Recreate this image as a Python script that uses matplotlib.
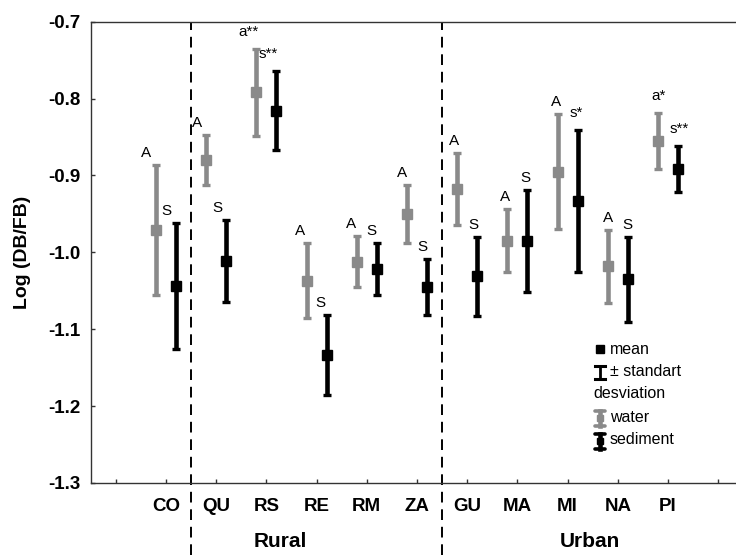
import matplotlib
matplotlib.use('Agg')
import matplotlib.pyplot as plt
from matplotlib.lines import Line2D
import numpy as np

plt.rcParams['font.family'] = ['Liberation Sans', 'DejaVu Sans']
plt.rcParams['axes.unicode_minus'] = False

# ---- data ----
sites = ['CO', 'QU', 'RS', 'RE', 'RM', 'ZA', 'GU', 'MA', 'MI', 'NA', 'PI']
water_mean = [-0.971, -0.880, -0.792, -1.037, -1.012, -0.950, -0.918, -0.985, -0.895, -1.018, -0.855]
water_sd = [0.084, 0.033, 0.057, 0.049, 0.033, 0.0375, 0.047, 0.041, 0.0745, 0.0476, 0.036]
sed_mean = [-1.044, -1.011, -0.816, -1.133, -1.022, -1.045, -1.031, -0.985, -0.933, -1.035, -0.892]
sed_sd = [0.082, 0.053, 0.0515, 0.052, 0.034, 0.036, 0.0515, 0.066, 0.0926, 0.055, 0.030]
water_labels = ['A', 'A', 'a**', 'A', 'A', 'A', 'A', 'A', 'A', 'A', 'a*']
sed_labels = ['S', 'S', 's**', 'S', 'S', 'S', 'S', 'S', 's*', 'S', 's**']
tick_labels = [''] + sites + ['']
group_names = ['Rural', 'Urban']
yticks = [-0.7, -0.8, -0.9, -1.0, -1.1, -1.2, -1.3]

W, H = 736, 555
fig = plt.figure(figsize=(W / 100, H / 100), dpi=100)
ax = fig.add_axes([90.7 / W, 1 - 483 / H, 652.6 / W, (483 - 21.7) / H])

GRAY = '#8a8a8a'
x = np.arange(1, len(sites) + 1)
off = 0.2
ekw = dict(fmt='s', markersize=6.5, elinewidth=3.3, capsize=3.0, capthick=2.4)
ax.errorbar(x - off, water_mean, yerr=water_sd, color=GRAY, ecolor=GRAY, **ekw)
ax.errorbar(x + off, sed_mean, yerr=sed_sd, color='black', ecolor='black', **ekw)

for i in range(len(sites)):
    dx = -10 + 1.1 * i
    for lab, xx, top in ((water_labels[i], x[i] - off, water_mean[i] + water_sd[i]),
                         (sed_labels[i], x[i] + off, sed_mean[i] + sed_sd[i])):
        dy = 10 if '*' in lab else 5
        ax.annotate(lab, (xx, top), xytext=(dx, dy), textcoords='offset pixels',
                    ha='center', va='bottom', fontsize=11)

ax.set_xlim(-0.5, 12.5)
ax.set_ylim(-1.3, -0.7)
ax.set_xticks(np.arange(len(tick_labels)))
ax.set_xticklabels(tick_labels, fontweight='bold', fontsize=13.5)
ax.set_yticks(yticks)
ax.set_yticklabels([f'{v:.1f}' for v in yticks], fontweight='bold', fontsize=13.5)
ax.tick_params(axis='x', direction='in', length=3, width=1, pad=11, colors='#333333',
               labelcolor='black')
ax.tick_params(axis='y', direction='in', length=3, width=1, pad=7, colors='#333333',
               labelcolor='black')
for s in ax.spines.values():
    s.set_linewidth(1.0)
    s.set_color('#333333')
ax.set_ylabel('Log (DB/FB)', fontweight='bold', fontsize=14)
ax.yaxis.set_label_coords(-(90.7 - 31) / 652.6, 0.5)

# group separators
for xv in (1.5, 6.5):
    ax.axvline(xv, ymin=-(555 - 483) / (483 - 21.7), ymax=1, color='black', lw=1.4,
               ls=(0, (5.5, 3.5)), clip_on=False)

fig.text(280 / W, 1 - 541.5 / H, group_names[0], ha='center', va='center',
         fontweight='bold', fontsize=15)
fig.text(590 / W, 1 - 541.5 / H, group_names[1], ha='center', va='center',
         fontweight='bold', fontsize=15)

# ---- legend (drawn manually) ----
def P(px, py):
    return px / W, 1 - py / H

def add_line(xs, ys, **kw):
    fx = [px / W for px in xs]
    fy = [1 - py / H for py in ys]
    fig.add_artist(Line2D(fx, fy, transform=fig.transFigure, **kw))

# mean
add_line([600], [349], marker='s', color='black', markersize=5.5, ls='none')
fig.text(*P(610, 349), 'mean', ha='left', va='center', fontsize=11.5)
# std symbol
add_line([600, 600], [366, 379], color='black', lw=2.0)
add_line([595, 605], [366, 366], color='black', lw=2.2)
add_line([595, 605], [379, 379], color='black', lw=2.2)
fig.text(*P(610, 372), '± standart', ha='left', va='center', fontsize=11.5)
fig.text(*P(593, 393.5), 'desviation', ha='left', va='center', fontsize=11.5)
# water / sediment symbols
for col, yc, lab in ((GRAY, 418, 'water'), ('black', 441, 'sediment')):
    add_line([600, 600], [yc - 7.5, yc + 7.5], color=col, lw=3.3)
    add_line([595, 605], [yc - 7.5, yc - 7.5], color=col, lw=2.6, solid_capstyle='round')
    add_line([595, 605], [yc + 7.5, yc + 7.5], color=col, lw=2.6, solid_capstyle='round')
    add_line([600], [yc], marker='s', color=col, markersize=5, ls='none')
    fig.text(*P(610, yc - 1), lab, ha='left', va='center', fontsize=11.5)

fig.savefig('out.png', dpi=100)
